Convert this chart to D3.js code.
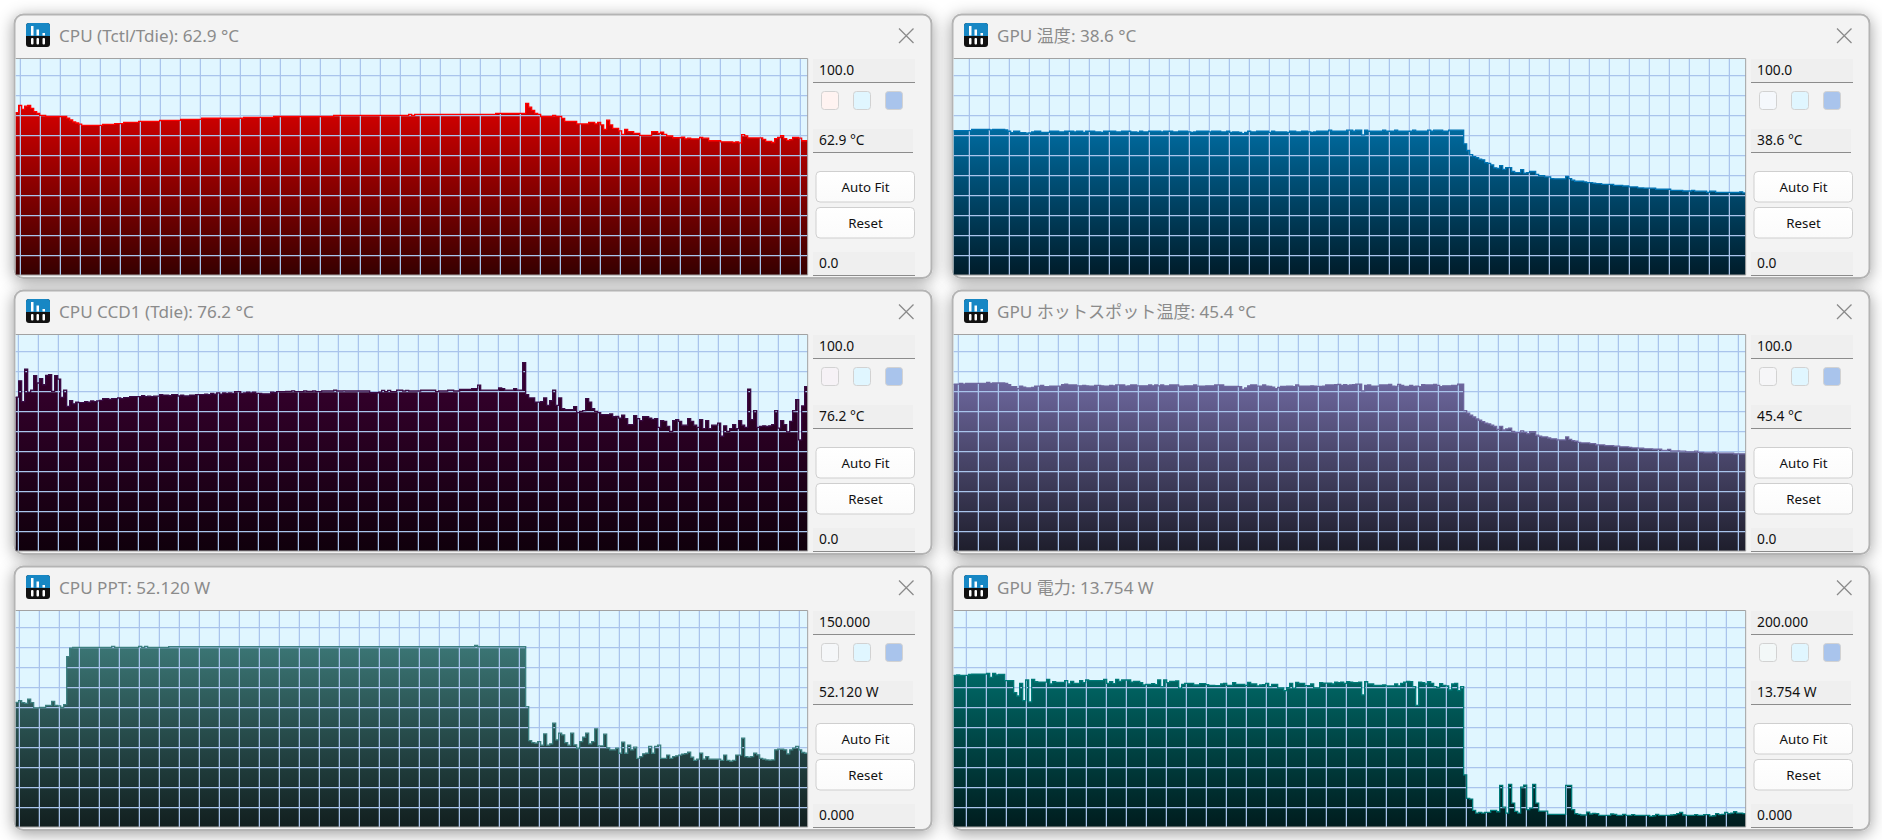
<!DOCTYPE html>
<html>
<head>
<meta charset="utf-8">
<script src="https://cdn.jsdelivr.net/npm/d3@7"></script>
<style>
  html, body { margin: 0; padding: 0; background: #fff; overflow: hidden; }
  text { font-family: "Noto Sans", "Noto Sans CJK JP", sans-serif; }
</style>
</head>
<body>
<div id="container"></div>
<script>
/* DATA */
const titles = ["CPU (Tctl/Tdie): 62.9 °C", "GPU 温度: 38.6 °C", "CPU CCD1 (Tdie): 76.2 °C", "GPU ホットスポット温度: 45.4 °C", "CPU PPT: 52.120 W", "GPU 電力: 13.754 W"];
const maxLabels = ["100.0", "100.0", "100.0", "100.0", "150.000", "200.000"];
const minLabels = ["0.0", "0.0", "0.0", "0.0", "0.000", "0.000"];
const currentLabels = ["62.9 °C", "38.6 °C", "76.2 °C", "45.4 °C", "52.120 W", "13.754 W"];
const maxValues = [100, 100, 100, 100, 150, 200];

const cpuTemp = [
  75,78.3,76.5,78,78.3,77,75.5,74.6,73.7,73.7,
  73.2,73.2,73.2,73.2,73.2,73.2,73.2,72.5,71.6,70.7,
  70.2,69.7,69.1,69.1,69.1,69.1,69.1,69.1,69.1,69.6,
  69.6,69.6,69.6,69.9,69.9,69.9,70.5,70.5,70.5,70.5,
  70.5,71,71,71,71,71,71,71,71.4,71.4,
  71.4,71.4,71.4,71.4,71.4,71.9,71.9,71.9,71.9,71.9,
  71.9,71.9,72.4,72.4,72.4,72.4,72.4,72.4,72.4,72.4,
  72.4,72.4,72.4,72.4,72.4,72.4,72.8,72.8,72.8,72.8,
  72.8,72.8,72.8,72.8,72.8,72.8,73.2,73.2,73.2,73.2,
  73.2,73.2,73.2,73.2,73.2,73.2,73.2,73.2,73.2,73.2,
  73.2,73.2,73.2,73.2,73.2,73.2,73.7,73.7,73.7,73.7,
  73.7,73.7,73.7,73.7,73.7,73.7,73.7,73.7,73.7,73.7,
  73.7,73.7,73.7,73.7,73.7,73.7,73.7,73.7,73.7,73.7,
  73.7,74.2,73.7,74.2,74.2,74.2,74.2,74.2,74.2,74.2,
  74.2,74.2,74.2,74.2,74.2,74.2,74.2,74.2,74.2,74.2,
  74.2,74.2,74.2,74.2,74.2,74.2,74.2,74.2,74.2,74.2,
  74.7,74.7,74.7,74.7,74.7,74.7,74.7,74.7,74.7,74.7,
  79.3,77.5,76,74.7,74.2,73.2,73.2,73.2,73.2,73.7,
  73.2,73.2,72.3,71,71,71,71,69.8,69.8,69.8,
  69.8,70.5,70.5,69.8,70.5,69.3,67.3,71.5,69.3,67.7,
  67.7,66.6,65,67.3,66.2,66.2,65.4,65.4,64.5,64.5,
  64.5,64.5,66.2,66.2,65.4,66,65,64.2,64.2,63.4,
  63.4,63.4,63.7,62.9,63.2,62.9,62.9,62.9,63.5,63.2,
  63.2,62,62,62,62,61.5,61.5,61.5,61.5,61.2,
  61.5,61,64.8,64.3,63.3,63.3,63.3,63.3,63.3,62.6,
  61.7,61.7,61.2,63,63.5,64.4,63,62.2,62.5,63.5,
  63.5,63.2,62,62
];

const gpuTemp = [
  66.7,66.7,66.7,66.7,66.7,66.7,67.3,67.3,67.3,67.3,
  67.3,67.3,67,67.3,67.3,67.3,67.3,67,66.4,65.8,
  66.4,66.4,65.8,65.8,65.5,65.6,66.1,66.4,66.4,65.9,
  65.9,65.9,66.4,66.4,66.4,66.1,66.1,66.4,66.4,66.4,
  66.1,66.4,66.4,65.9,66.4,66.4,66.4,66.1,66.1,65.9,
  66.4,66.4,66.4,66.4,66.1,66.1,66.4,66.4,66.4,66.1,
  66.1,65.9,66.4,66.1,66.1,66.4,66.4,66.4,66.4,66.1,
  66.4,66.4,66.4,66.1,66.1,66.4,66.4,66.4,66.1,65.9,
  66.1,66.4,66.4,66.4,66.4,66.1,66.4,66.4,66.4,66.1,
  66.1,66.4,65.9,66.1,66.1,65.9,65.3,65.9,66.4,66.1,
  66.1,66.4,66.4,66.4,66.4,65.9,66.4,66.1,66.1,66.1,
  66.1,65.9,66.4,66.4,66.1,66.1,66.4,66.4,66.1,65.9,
  66.1,66.4,66.4,66.4,66.4,66.9,66.4,66.4,66.4,66.4,
  66.4,66.9,66.9,66.4,66.9,66.9,64.7,66.9,66.4,66.4,
  66.4,66.4,66.4,66.9,66.4,66.4,66.4,66.9,66.4,66.4,
  66.4,66.4,66.4,66.9,66.4,66.4,66.4,66.4,66.9,66.4,
  66.9,66.9,66.9,66.4,66.4,66.9,66.9,66.9,66.9,66.9,
  60.6,57.5,55.6,54.7,54.2,53.5,53.2,51.9,51.6,50.8,
  49.5,49.2,50.5,48.8,49.6,49.6,47.8,47.3,47.3,48.7,
  47.1,47.3,47.8,47.8,46.5,45.9,45.9,45.3,45.3,44.5,
  44.4,44.4,44.4,44.4,45.6,44.5,43.8,43.3,43.3,43.3,
  43,42.7,42.7,42.4,42.2,42.2,41.9,41.9,41.9,41.9,
  41.4,41.4,41.4,41.1,41.1,40.7,40.7,40.7,40.2,40.2,
  40.1,40.1,40.1,40.1,39.6,39.6,39.6,39.6,39.6,39.1,
  39.1,39.1,39.1,38.8,38.8,38.8,39.1,38.7,38.7,38.7,
  38.7,38.2,38.7,38.7,38.2,38.2,38.2,38.2,38.2,38.1,
  38.1,38.1,38.4,37.9
];

const cpuCcd = [
  71.1,78.6,69,84,73.3,74.3,81,77.6,79.6,76.8,
  81.1,81.4,73.7,81,79.4,71,74.3,66.8,69.4,68,
  68.8,68.5,68.5,69,68.7,69.3,69,69.3,69.6,70.4,
  70.4,70,70.4,70.4,70.7,70.4,70.8,70.8,71.3,71.3,
  71.3,71.3,71.7,71.3,71.5,71.3,71.5,71.5,72.2,72,
  72,71.7,72.2,72.2,71.6,72,71.6,71.6,72,72,
  72.2,72.2,72.2,72.5,72.2,72.8,72.5,73,72.5,73,
  72.8,73,72.8,73.6,73.6,72.8,73,73.4,73,73.4,
  72.8,72.8,72.6,72.6,72.6,73.4,73.1,73.6,73.6,73.6,
  73.7,73.7,74,73.6,73.6,73.6,73.9,73.7,73.7,73.9,
  73.6,73.6,73.9,73.9,73.9,73.9,74.3,73.9,73.9,74,
  73.9,73.9,73.9,73.9,73.9,73.9,73.9,73.9,73.1,73.1,
  73.1,73.4,74.2,73.6,74.2,73.6,73.6,74.3,74.3,73.9,
  74.2,73.9,73.9,73.9,73.9,74.3,74.3,74.3,74.3,74.3,
  73.6,73.9,73.9,73.9,74.3,74.3,73.9,73.9,74.7,74.6,
  74.6,74.6,75,75,76.6,74.3,74.3,74.3,74.3,74.3,
  74.3,75.3,75,74.3,74.3,74.3,75,74.3,74.3,87,
  72.2,70.7,70.7,68.8,68.8,69,70.7,67.3,69.4,74.3,
  67.3,70.7,65.7,65.3,65.3,65.3,66.7,63.9,64.5,64.8,
  70.4,68.8,65.7,64.5,63.9,63,63,63,63.3,62,
  62.2,61.4,62.7,61.1,58.4,58.4,62.5,61.1,60.2,62,
  62,61.4,60.8,61.1,57.1,60.2,59.9,57.6,55.3,60.2,
  60.7,59.9,58.1,58.1,61.1,59.9,58.1,57.1,60.7,56.5,
  60.2,56.5,58.1,58.1,59.1,53,57.8,55.3,56.5,58.4,
  56.5,60.2,58.1,57.1,74.8,60.7,64.8,57.1,57.6,57.8,
  57.5,57.8,58.4,64.8,56.8,60.2,58.4,55,59.9,64.8,
  69.9,51.3,67,75.9
];

const gpuHotspot = [
  77.1,77.1,77.4,77.1,77.4,77.4,77.4,77.4,77.4,77.4,
  77.4,77.9,77.4,77.6,77.6,77.6,77.6,77.4,76.8,75.9,
  75.9,75,76.2,75.7,75.3,75.3,75.6,76.2,76.2,76.5,
  75.9,75.9,76.2,76.2,76.2,76.2,76.8,77.1,76.7,76.7,
  76.7,76.3,76.3,76.5,76.3,76.2,76.2,76.5,76.5,76.3,
  76.2,76.2,76.5,76.3,76.7,76.7,76.7,76.2,76.3,76.7,
  76.7,76.3,76.3,76.3,76.3,76.7,76.3,76.7,76.3,76.7,
  76.3,76.3,76.7,76.7,76.7,76.2,76.2,76.3,76.3,76.3,
  76.7,76.2,76.2,76.2,76.3,76.3,76.3,76.7,76.7,76.7,
  76,76,76,76,76,75.9,74.7,75.3,76.3,76.7,
  76.7,76.2,76.2,76.7,76.2,76,75.7,75,75.6,76,
  76,76.2,76.2,75.9,76.7,76.2,76.2,76.2,76.2,76.3,
  76.2,76,76,76.2,76.7,76.7,76.7,76.8,77,76.5,
  76.8,76.5,76.7,76.8,77.1,77.1,74,76.5,76.7,76.2,
  76.2,76.2,76.7,76.7,76.7,77,76.2,76,77,76.5,
  76,76,76.5,76,76.2,75.9,76.8,76.7,76.7,76.7,
  77,76.5,75.9,76.3,76.3,76.3,76.5,76.5,77.1,77.1,
  64.8,63.7,62.7,61.9,61,60.4,59.8,59.1,58.7,58.1,
  57.5,56.2,57.6,55.9,56.4,56.7,55.3,54.7,54.7,55.5,
  54.8,54.2,55.1,55.1,53.5,53,52.7,52.7,52.2,51.8,
  51.8,51.3,51.3,51.3,52.7,51.6,51,50.7,50.2,49.9,
  49.9,49.9,49.6,49.6,49,49,49,48.7,48.7,48.7,
  48.4,48.4,48.1,48.1,48.1,47.9,47.6,47.6,47.5,47.5,
  47.2,47.2,47.2,47,47,47,46.5,46.5,46.9,46.2,
  46.2,46.2,46.1,46.1,45.8,45.8,45.8,46.1,45.6,45.6,
  45.3,45.3,45.3,45.6,45.2,45.2,45.2,45.2,45.2,45.2,
  44.9,44.9,44.9,44.9
];

const cpuPower = [
  86.4,87.6,86.2,85.7,88.5,86.2,82.5,82.5,82.9,82.9,
  84.3,84.3,87.1,84.3,83.9,82.9,84.8,118,124,124.4,
  124.4,124.4,124.4,124.4,124.4,124.4,124.4,124.4,124.4,124.4,
  124.4,124.4,125.1,124.4,124.4,124.4,124.4,124.4,124.4,124.4,
  124.4,125.1,124.4,125.1,124.4,124.4,124.4,124.4,124.4,124.4,
  124.4,124.9,124.9,124.9,124.9,124.9,124.9,124.9,124.9,124.9,
  124.9,124.9,124.9,124.9,124.9,124.9,124.9,124.9,124.9,124.9,
  124.9,124.9,124.9,124.9,124.9,124.9,124.9,124.9,124.9,124.9,
  124.9,124.9,124.9,124.9,124.9,124.9,124.9,124.9,124.9,124.9,
  124.9,124.9,124.9,124.9,124.9,124.9,124.9,124.9,124.9,124.9,
  124.9,124.9,124.9,124.9,124.9,124.9,124.9,124.9,124.9,124.9,
  124.9,124.9,124.9,124.9,124.9,124.9,124.9,124.9,124.9,124.9,
  124.9,124.9,124.9,124.9,124.9,124.9,124.9,124.9,124.9,124.9,
  124.9,124.9,124.9,124.9,124.9,124.9,124.9,124.9,124.9,124.9,
  124.9,124.9,124.9,124.9,124.9,124.9,124.9,124.9,124.9,124.9,
  124.9,124.9,124.9,125.8,124.9,124.9,124.9,124.9,124.9,124.9,
  124.9,124.9,124.9,124.9,124.9,124.9,124.9,124.9,124.9,124.9,
  83.4,59.9,58.5,58.1,59.2,56.7,64.5,56.7,57.6,71.9,
  60.4,65,63.8,58.5,56.7,65,56.9,54.4,59.2,62.2,
  65,57.6,59.2,68,56.2,56.2,64.3,54.8,53.5,53.5,
  54.6,51.1,58.8,51.1,56.7,53.5,55.3,47.5,48.8,50.7,
  51.1,55.8,51.1,55.8,56.7,47.5,47.5,49.8,47.5,48.8,
  49.3,49.8,50.5,50.9,51.8,48.4,46.1,47,51.1,47,
  48.8,47,47,47,47,46.1,49.8,46.1,45.6,46.1,
  49.8,49.8,61.5,48.8,48.4,48.8,51.1,50,47.5,47,
  46.5,46.3,46.5,53.5,53.9,53.9,53.5,50.7,53.5,54.6,
  55.8,53.5,51.6,51.1
];

const gpuPower = [
  140.1,140.4,140.1,140.1,140.1,141,141.3,141.3,141.3,141.3,
  141.3,141.9,138.2,141.9,140.4,141,141,135.2,135.2,135.2,
  124.1,121,132.7,116.7,135.8,115.5,136.4,134.2,133.9,133.9,
  133.9,136.4,132.1,134.2,133.6,133.6,133.6,135.2,132.1,134.6,
  132.7,132.7,135.2,133.3,135.8,135.2,135.2,135.2,135.2,135.2,
  136.4,132.7,134.2,132.4,136.4,134.6,135.8,135.8,135.8,133.9,
  134.6,134.6,133.3,131.2,131.8,131.8,132.4,131.5,135.8,129.6,
  135.8,133.3,134.6,134.6,134.9,128.1,131.8,132.7,132.7,132.7,
  131.2,131.2,132.4,132.4,131.5,130.9,130.9,130.6,130.6,132.1,
  132.7,130.9,130.9,133.3,131.8,131.8,131.8,130.9,133.6,132.1,
  132.1,130.3,131.2,131.5,132.7,129.6,131.8,131.8,128.4,128.4,
  126,128.7,132.7,128.1,133.6,132.7,132.7,130.6,130.6,132.1,
  128.4,128.4,133.3,133,133,133,132.1,133.9,133.3,133.9,
  132.7,134.2,133.9,133.3,133.3,133.9,122,134.2,132.1,132.1,
  130.9,130.9,130.9,131.2,130.3,130.3,130.3,132.1,130.3,132.7,
  133.9,134.6,134.2,129.6,112.4,133.9,133.3,132.1,134.2,132.7,
  129.6,129,132.4,130.9,130.3,126.6,132.1,132.7,126,129.6,
  48.2,26.4,25.8,15.4,12.9,13.5,12.9,13.5,13.5,15.4,
  15.4,14.1,38.4,18.4,12.9,39.3,22.1,14.4,12.9,36.9,
  38.7,16,17.5,39.3,22.1,14.7,14.7,14.7,11.7,11.7,
  11.7,11.7,11.7,11.7,38.4,38.4,16,12.3,11.7,11.1,
  11.1,13.8,12,12.6,12.3,10.8,10.8,10.8,10.8,12,
  11.7,10.8,10.8,11.7,10.8,10.8,11.4,10.8,10.8,10.8,
  10.8,10.8,9.8,10.4,11.7,10.8,10.8,10.8,10.8,11.1,
  11.4,12.3,13.5,11.1,10.8,10.8,10.8,11.4,10.8,10.8,
  11.4,11.4,10.1,10.4,12.3,11.4,11.7,13.5,12.3,12.9,
  14.1,12.9,12.9,12.3
];

const series = [cpuTemp, gpuTemp, cpuCcd, gpuHotspot, cpuPower, gpuPower];

/* COLOURS */
const lineColors = ["#ff0000", "#0073b3", "#3a0b45", "#6f689f", "#3c8080", "#007a78"];
const topColors = ["#d80000", "#006a9e", "#38002f", "#6c669c", "#3b7675", "#006866"];
const bottomColors = ["#360000", "#001c2a", "#10000c", "#1e1e2c", "#121f1f", "#001c1e"];
const swatchColors = ["#fff3f1", "#f5f8fc", "#f6f2f6", "#f6f6f8", "#f5f7f9", "#f3f8f8"];

/* LAYOUT */
const width = 1882, height = 840;
const barCount = 264, barWidth = 3;
const gridOffsets = [4.7, 15.7, 2.7, 4.7, 3.7, 12.7]; // first vertical grid line inside each plot

const svg = d3.select("#container")
  .append("svg")
  .attr("width", width)
  .attr("height", height)
  .style("display", "block");

const defs = svg.append("defs");
const shadow = defs.append("filter").attr("id", "shadow")
  .attr("x", "-10%").attr("y", "-15%").attr("width", "120%").attr("height", "130%");
shadow.append("feDropShadow")
  .attr("dx", 0).attr("dy", 3).attr("stdDeviation", 8)
  .attr("flood-color", "#000").attr("flood-opacity", 0.38);

const btnGrad = defs.append("linearGradient").attr("id", "btn").attr("x2", 0).attr("y2", 1);
btnGrad.append("stop").attr("offset", 0).attr("stop-color", "#ffffff");
btnGrad.append("stop").attr("offset", 1).attr("stop-color", "#fbfbfb");

function drawPanel(i) {
  const col = i % 2, row = Math.floor(i / 2);
  const dx = col * 938, dy = row * 276;
  const plotLeft = 15.67, plotTop = 58.5, plotW = barCount * barWidth, plotH = 216.5;

  const g = svg.append("g").attr("transform", `translate(${dx},${dy})`);

  // window
  g.append("rect")
    .attr("x", 14.5).attr("y", 14.5).attr("width", 917).attr("height", 263.5)
    .attr("rx", 9).attr("fill", "#f3f3f3").attr("stroke", "#b4b4b4").attr("stroke-width", 2)
    .attr("filter", "url(#shadow)");

  // icon
  const icon = g.append("g").attr("transform", "translate(26,23)");
  icon.append("rect").attr("width", 24).attr("height", 24).attr("rx", 3).attr("fill", "#111");
  icon.append("path").attr("d", "M0,13V3a3,3 0 0 1 3,-3H21a3,3 0 0 1 3,3V13Z").attr("fill", "#1787c4");
  [[5, 3, 9.5], [10.5, 6.5, 6], [16.5, 10, 2.5]].forEach(b => {
    icon.append("rect").attr("x", b[0]).attr("y", b[1]).attr("width", 2.5).attr("height", b[2]).attr("fill", "#fff");
  });
  [[5, 15], [10.5, 15], [16.5, 15]].forEach(b => {
    icon.append("rect").attr("x", b[0]).attr("y", b[1]).attr("width", 2.5).attr("height", 6.5).attr("rx", 1).attr("fill", "#fff");
  });

  g.append("text").attr("x", 59).attr("y", 41.5)
    .attr("font-size", 17.1).attr("fill", "#8b8b8b").text(titles[i]);

  // close button
  g.append("path").attr("d", "M899,28.5L913.5,43M913.5,28.5L899,43")
    .attr("stroke", "#8a8a8a").attr("stroke-width", 1.3).attr("fill", "none");

  // SCALES
  const x = d3.scaleLinear().domain([0, barCount]).range([plotLeft, plotLeft + plotW]);
  const y = d3.scaleLinear().domain([0, maxValues[i]]).range([plotTop + plotH, plotTop]);

  // plot background
  g.append("rect").attr("x", plotLeft).attr("y", plotTop).attr("width", plotW).attr("height", plotH)
    .attr("fill", "#e0f6ff");

  const grad = defs.append("linearGradient").attr("id", "fill" + i)
    .attr("gradientUnits", "userSpaceOnUse")
    .attr("x1", 0).attr("x2", 0)
    .attr("y1", y(d3.max(series[i]))).attr("y2", y(0));
  grad.append("stop").attr("offset", 0).attr("stop-color", topColors[i]);
  grad.append("stop").attr("offset", 1).attr("stop-color", bottomColors[i]);

  // last value repeated so the last step has its width
  const pts = series[i].concat([series[i][series[i].length - 1]]);

  const area = d3.area()
    .x((d, k) => x(k)).y0(y(0)).y1(d => y(d))
    .curve(d3.curveStepAfter);
  g.append("path").datum(pts).attr("d", area).attr("fill", `url(#fill${i})`);

  // grid goes over the fill
  const grid = g.append("g").attr("stroke", "#a9c4ec").attr("stroke-width", 1.25);
  d3.range(gridOffsets[i], plotW, 20).forEach(v => {
    grid.append("line").attr("x1", plotLeft + v).attr("x2", plotLeft + v).attr("y1", plotTop).attr("y2", plotTop + plotH);
  });
  d3.range(0, 10).forEach(k => {
    const gy = 75.5 + k * 20;
    grid.append("line").attr("x1", plotLeft).attr("x2", plotLeft + plotW).attr("y1", gy).attr("y2", gy);
  });

  const line = d3.line()
    .x((d, k) => x(k)).y(d => y(d))
    .curve(d3.curveStepAfter);
  g.append("path").datum(pts).attr("d", line)
    .attr("fill", "none").attr("stroke", lineColors[i]).attr("stroke-width", 1.3);

  // plot frame: top, right
  g.append("path")
    .attr("d", `M${plotLeft},${plotTop}H${plotLeft + plotW}V${plotTop + plotH}H${plotLeft}`)
    .attr("fill", "none").attr("stroke", "#a2a2a2").attr("stroke-width", 1);

  // side column
  sideBox(g, 813, 59, 102, 24, maxLabels[i]);
  sideBox(g, 813, 129, 100, 24, currentLabels[i]);
  sideBox(g, 813, 252, 102, 24, minLabels[i]);

  [[830, swatchColors[i]], [862, "#e0f6ff"], [894, "#a9c4ec"]].forEach(s => {
    g.append("rect").attr("x", s[0] - 8.5).attr("y", 91.5).attr("width", 17).attr("height", 18)
      .attr("rx", 3).attr("fill", s[1]).attr("stroke", "#d2d2d2").attr("stroke-width", 1);
  });

  button(g, 171.5, "Auto Fit");
  button(g, 207.5, "Reset");
}

function sideBox(g, bx, by, w, h, label) {
  g.append("rect").attr("x", bx).attr("y", by).attr("width", w).attr("height", h).attr("fill", "#efefef");
  g.append("line").attr("x1", bx).attr("x2", bx + w).attr("y1", by + h - 0.5).attr("y2", by + h - 0.5)
    .attr("stroke", "#8c8c8c").attr("stroke-width", 1);
  g.append("text").attr("x", bx + 6).attr("y", by + 15.8)
    .attr("font-size", 13.8).attr("fill", "#111").text(label);
}

function button(g, by, label) {
  g.append("rect").attr("x", 816).attr("y", by).attr("width", 98.5).attr("height", 30.5)
    .attr("rx", 4).attr("fill", "url(#btn)").attr("stroke", "#cfcfcf").attr("stroke-width", 1);
  g.append("text").attr("x", 865.5).attr("y", by + 20.2).attr("text-anchor", "middle")
    .attr("font-size", 13.3).attr("fill", "#111").text(label);
}

d3.range(6).forEach(drawPanel);
</script>
</body>
</html>
